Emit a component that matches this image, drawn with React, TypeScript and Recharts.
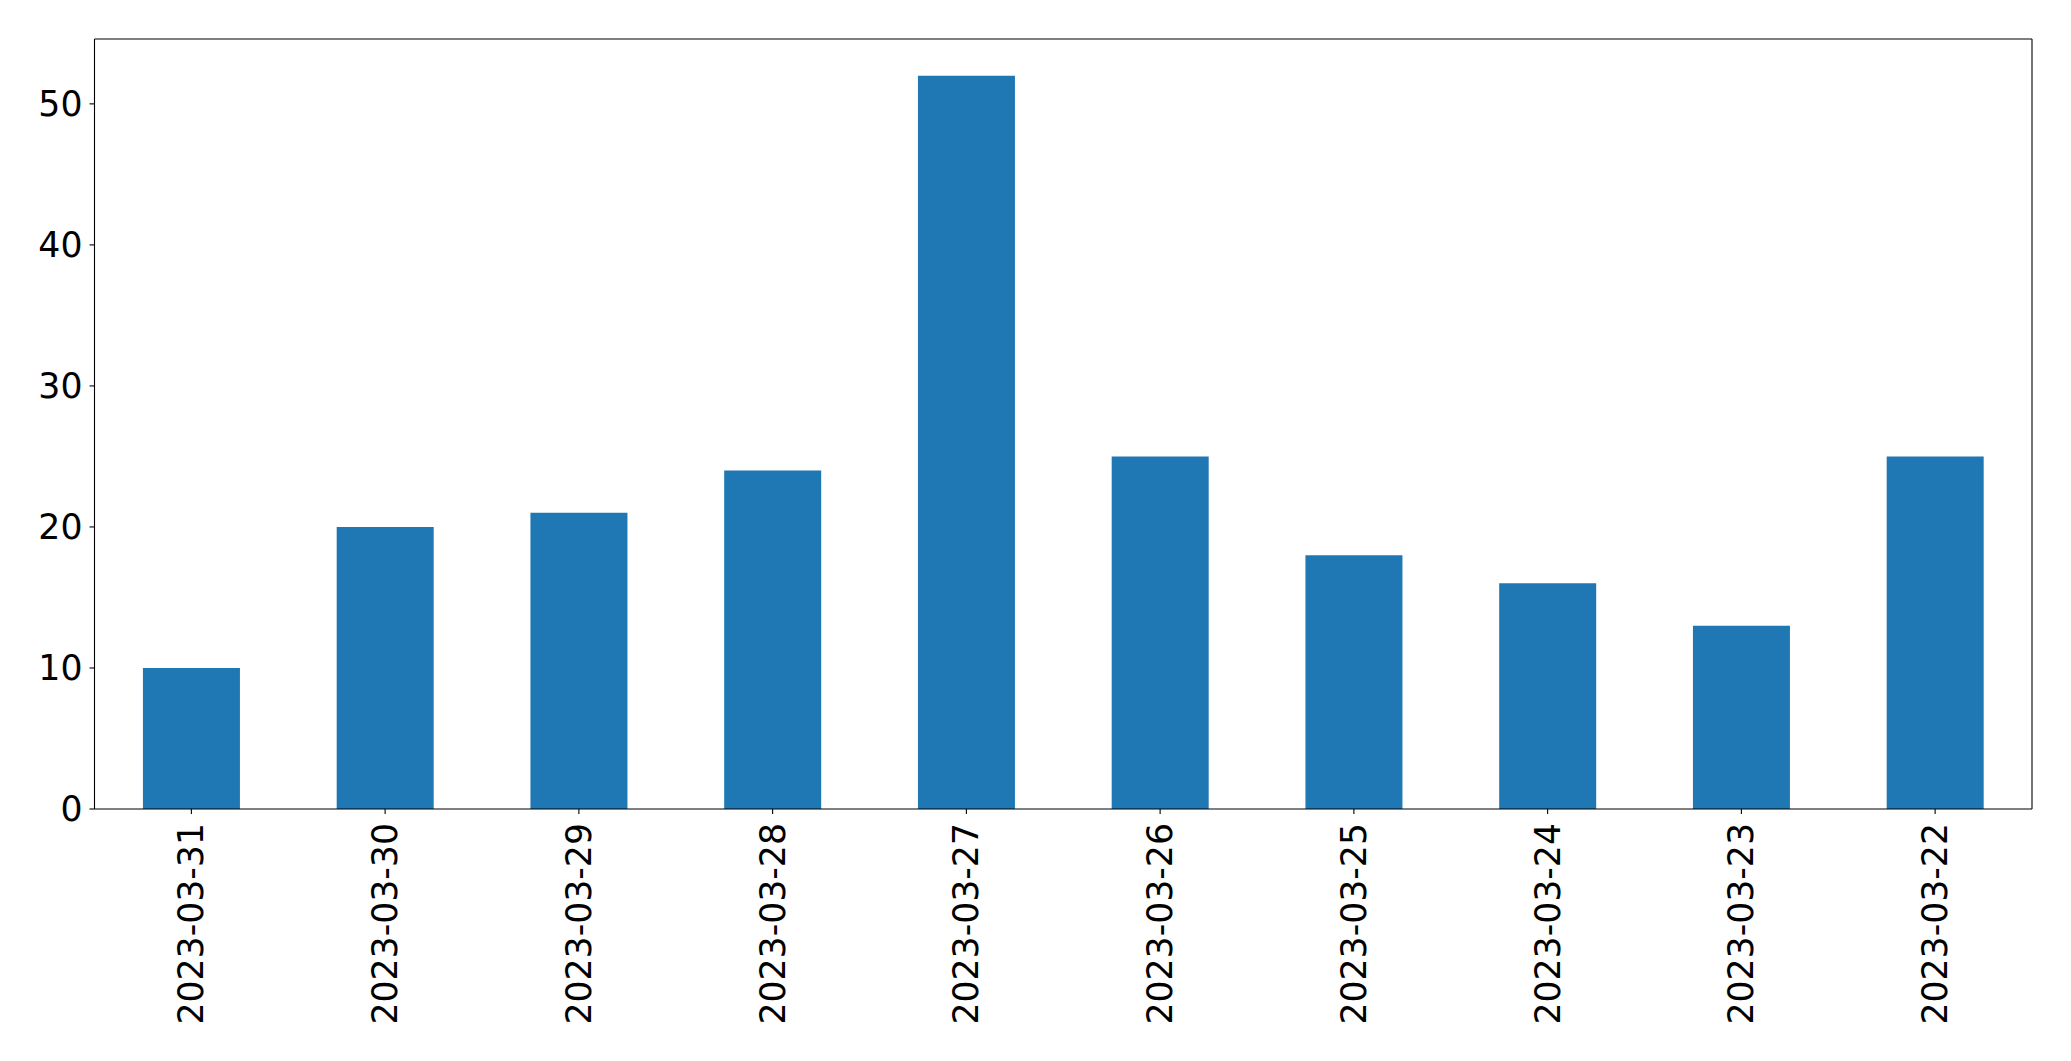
import React from 'react';
import { BarChart, Bar, XAxis, YAxis } from 'recharts';

const dates = [
  '2023-03-31', '2023-03-30', '2023-03-29', '2023-03-28', '2023-03-27',
  '2023-03-26', '2023-03-25', '2023-03-24', '2023-03-23', '2023-03-22',
];
const counts = [10, 20, 21, 24, 52, 25, 18, 16, 13, 25];
const yTicks = [0, 10, 20, 30, 40, 50];

const data = dates.map((d, i) => ({ date: d, count: counts[i] }));

const FONT = '"DejaVu Sans", sans-serif';
const FONT_SIZE = 34.7;

function DateTick({ x, y, payload }: any) {
  return (
    <text
      transform={`translate(${x},${y}) rotate(-90)`}
      textAnchor="end"
      dominantBaseline="central"
      fontFamily={FONT}
      fontSize={FONT_SIZE}
      fill="#000"
    >
      {payload.value}
    </text>
  );
}

export default function App() {
  return (
    <div style={{ position: 'absolute', left: 0, top: 0, width: 2071, height: 1061, background: '#fff' }}>
      <BarChart
        width={2071}
        height={1061}
        data={data}
        margin={{ top: 38, right: 38, left: 0, bottom: 0 }}
        barCategoryGap="25%"
      >
        <XAxis
          dataKey="date"
          interval={0}
          height={252}
          tickSize={5}
          tickMargin={9}
          axisLine={{ stroke: '#000', strokeWidth: 1.1 }}
          tickLine={{ stroke: '#000', strokeWidth: 1.1 }}
          tick={<DateTick />}
        />
        <XAxis
          xAxisId="top"
          dataKey="date"
          orientation="top"
          height={1}
          tick={false}
          tickLine={false}
          axisLine={{ stroke: '#000', strokeWidth: 1.1 }}
        />
        <YAxis
          domain={[0, 54.6]}
          ticks={yTicks}
          width={94.5}
          tickSize={5}
          tickMargin={7}
          axisLine={{ stroke: '#000', strokeWidth: 1.1 }}
          tickLine={{ stroke: '#000', strokeWidth: 1.1 }}
          tick={{ fill: '#000', fontFamily: FONT, fontSize: FONT_SIZE }}
        />
        <YAxis
          yAxisId="right"
          orientation="right"
          width={1}
          domain={[0, 54.6]}
          tick={false}
          tickLine={false}
          axisLine={{ stroke: '#000', strokeWidth: 1.1 }}
        />
        <Bar dataKey="count" fill="#1f77b4" isAnimationActive={false} />
      </BarChart>
    </div>
  );
}
